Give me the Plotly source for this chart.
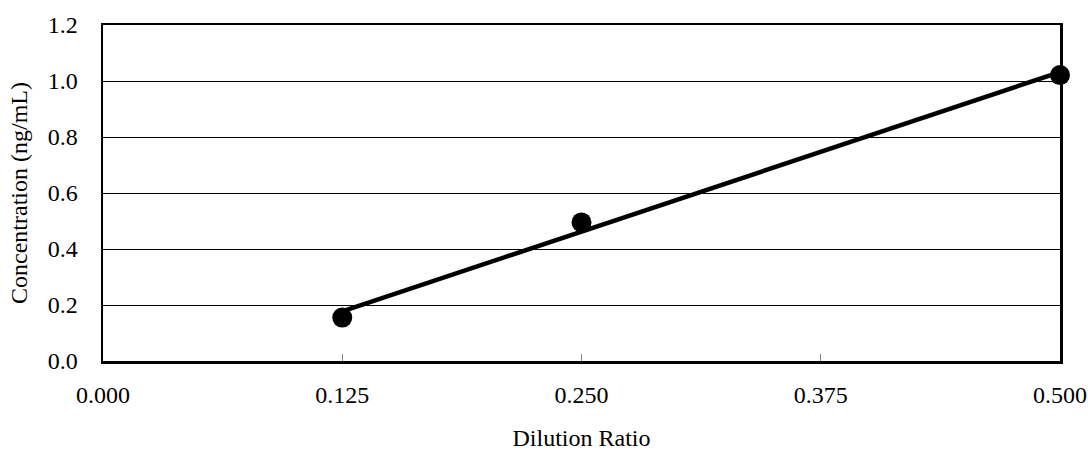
import numpy as np
import plotly.graph_objects as go

dilution_ratio = [0.125, 0.250, 0.500]
concentration = [0.155, 0.495, 1.021]
x_ticks = [0.000, 0.125, 0.250, 0.375, 0.500]
x_tick_labels = ["0.000", "0.125", "0.250", "0.375", "0.500"]
y_ticks = [0.0, 0.2, 0.4, 0.6, 0.8, 1.0, 1.2]
y_tick_labels = ["0.0", "0.2", "0.4", "0.6", "0.8", "1.0", "1.2"]

slope, intercept = np.polyfit(dilution_ratio, concentration, 1)
fit_x = [min(dilution_ratio), max(dilution_ratio)]
fit_y = [slope * v + intercept for v in fit_x]

FONT = "Liberation Serif, Times New Roman, serif"

fig = go.Figure()
fig.add_trace(go.Scatter(x=fit_x, y=fit_y, mode="lines",
                         line=dict(color="black", width=4.5),
                         hoverinfo="skip", showlegend=False, cliponaxis=False))
fig.add_trace(go.Scatter(x=dilution_ratio, y=concentration, mode="markers",
                         marker=dict(color="black", size=20),
                         showlegend=False, cliponaxis=False))

fig.update_layout(
    width=1088, height=451,
    margin=dict(l=103, r=28, t=25, b=90, autoexpand=False),
    paper_bgcolor="white", plot_bgcolor="white",
    font=dict(family=FONT, size=24, color="black"),
    xaxis=dict(range=[0, 0.5], tickvals=x_ticks, ticktext=x_tick_labels,
               showgrid=False, zeroline=False, automargin=False,
               showline=True, linecolor="black", linewidth=2.5, mirror=True,
               ticks="inside", ticklen=7, tickwidth=1, tickcolor="#808080",
               ticklabelstandoff=11,
               title=dict(text="Dilution Ratio", font=dict(size=24), standoff=30)),
    yaxis=dict(range=[0, 1.2], tickvals=y_ticks, ticktext=y_tick_labels,
               showgrid=True, gridcolor="black", gridwidth=1, zeroline=False,
               automargin=False,
               showline=True, linecolor="black", linewidth=2.5, mirror=True,
               ticks="", ticklabelstandoff=18,
               title=dict(text="Concentration (ng/mL)", font=dict(size=24), standoff=14)),
)

fig.write_html(
    "out.html",
    config={"displayModeBar": False, "staticPlot": True},
    post_script="document.body.style.margin='0';document.body.style.overflow='hidden';",
)
